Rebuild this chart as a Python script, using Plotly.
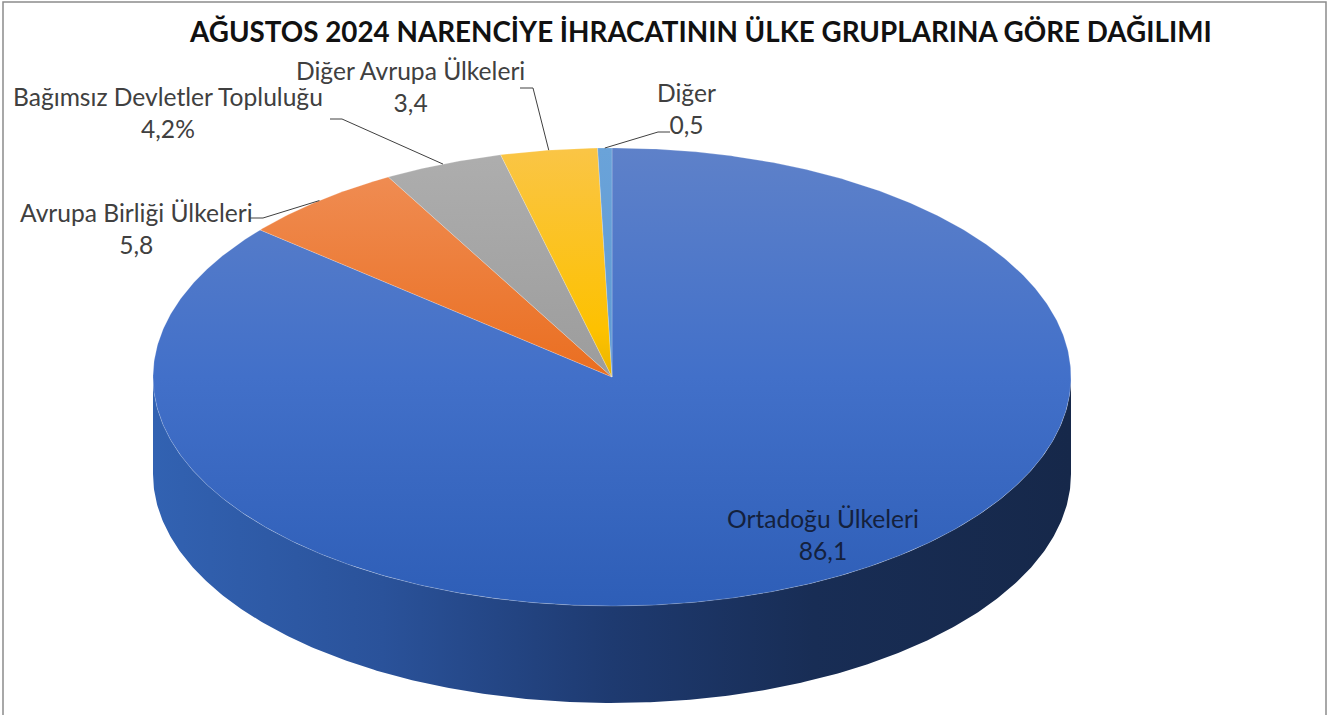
import numpy as np
import plotly.graph_objects as go

# ---------------- data ----------------
categories = ["Ortadoğu Ülkeleri", "Avrupa Birliği Ülkeleri", "Bağımsız Devletler Topluluğu",
              "Diğer Avrupa Ülkeleri", "Diğer"]
values = [86.1, 5.8, 4.2, 3.4, 0.5]
value_texts = ["86,1", "5,8", "4,2%", "3,4", "0,5"]
title_text = "AĞUSTOS 2024 NARENCİYE İHRACATININ ÜLKE GRUPLARINA GÖRE DAĞILIMI"

# ---------------- style ----------------
W, H = 1328, 715
CX, CY, RX, RY, DEPTH = 612, 377, 459, 229, 97
FONT = "Lato"

top_scales = [
    [[0, "#5E81C9"], [0.5, "#4270C9"], [1, "#2E5EB7"]],
    [[0, "#F09059"], [0.5, "#EA6E20"], [1, "#D96010"]],
    [[0, "#AEAEAE"], [0.5, "#9C9C9C"], [1, "#8A8A8A"]],
    [[0, "#FAC546"], [0.4, "#FDC100"], [0.5, "#EAB500"], [1, "#D9A800"]],
    [[0, "#6AA3D9"], [1, "#5290CF"]],
]
side_scales = [
    [[0, "#3262B2"], [0.25, "#2A529A"], [0.5, "#1E3A70"], [0.72, "#182D55"], [1, "#16284A"]],
    [[0, "#C45A12"], [1, "#7A380A"]],
    [[0, "#8A8A8A"], [1, "#555555"]],
    [[0, "#C99A00"], [1, "#7F6100"]],
    [[0, "#4A7FB8"], [1, "#2C4E72"]],
]
label_pos = [(823, 534), (136, 228), (168, 112), (410, 86), (686, 108)]
label_colors = ["#14213D", "#404040", "#404040", "#404040", "#404040"]
leader_elbows = [None,
                 [(250, 218), (263, 218)],
                 [(330, 119), (342, 119)],
                 [(520, 88), (533, 88)],
                 [(670, 132), (658, 132)]]


def ell(theta_deg, dy=0.0):
    t = np.radians(theta_deg)
    return CX + RX * np.sin(t), CY - RY * np.cos(t) + dy


total = float(sum(values))
bounds = np.concatenate([[0.0], np.cumsum(values) / total * 360.0])

fig = go.Figure()

# side walls (front half only: 90..270 degrees clockwise from 12 o'clock)
for i in range(len(values)):
    a0, a1 = bounds[i], bounds[i + 1]
    lo, hi = max(a0, 90.0), min(a1, 270.0)
    if lo >= hi:
        continue
    th = np.linspace(lo, hi, max(3, int((hi - lo) * 2)))
    xt, yt = ell(th)
    xb, yb = ell(th[::-1], DEPTH)
    xs = np.concatenate([xt, xb, xt[:1]])
    ys = np.concatenate([yt, yb, yt[:1]])
    fig.add_trace(go.Scatter(
        x=xs, y=ys, mode="lines", fill="toself", line=dict(width=0),
        fillgradient=dict(type="horizontal", colorscale=side_scales[i],
                          start=CX - RX, stop=CX + RX),
        hoverinfo="skip", showlegend=False))

# top faces
for i in range(len(values)):
    a0, a1 = bounds[i], bounds[i + 1]
    th = np.linspace(a0, a1, max(3, int((a1 - a0) * 2)))
    xa, ya = ell(th)
    xs = np.concatenate([[CX], xa, [CX]])
    ys = np.concatenate([[CY], ya, [CY]])
    fig.add_trace(go.Scatter(
        x=xs, y=ys, mode="lines", fill="toself",
        line=dict(width=0.6, color="rgba(255,255,255,0.35)"),
        fillgradient=dict(type="vertical", colorscale=top_scales[i],
                          start=CY - RY, stop=CY + RY),
        hoverinfo="skip", showlegend=False))

# leader lines (end at the mid angle of each slice on the rim)
for i in range(len(values)):
    if leader_elbows[i] is None:
        continue
    mid = (bounds[i] + bounds[i + 1]) / 2.0
    ex, ey = ell(mid)
    pts = leader_elbows[i] + [(ex, ey)]
    fig.add_trace(go.Scatter(
        x=[p[0] for p in pts], y=[p[1] for p in pts], mode="lines",
        line=dict(width=1, color="#404040"),
        hoverinfo="skip", showlegend=False))

# labels
for i in range(len(values)):
    fig.add_annotation(
        x=label_pos[i][0], y=label_pos[i][1], xref="x", yref="y",
        text=f"{categories[i]}<br>{value_texts[i]}", showarrow=False,
        xanchor="center", yanchor="middle", align="center",
        font=dict(family=FONT, size=24.6, color=label_colors[i]))

# title
fig.add_annotation(
    x=700, y=31, xref="x", yref="y", text=f"<b>{title_text}</b>", showarrow=False,
    xanchor="center", yanchor="middle",
    font=dict(family=FONT, size=27.8, color="#111111"))

# chart border
fig.add_shape(type="rect", xref="x", yref="y", x0=3, y0=2, x1=1326, y1=718,
              line=dict(color="#8C8C8C", width=1.5), fillcolor="rgba(0,0,0,0)")

fig.update_layout(
    width=W, height=H, margin=dict(l=0, r=0, t=0, b=0),
    paper_bgcolor="white", plot_bgcolor="white",
    xaxis=dict(range=[0, W], visible=False, fixedrange=True),
    yaxis=dict(range=[H, 0], visible=False, fixedrange=True),
    showlegend=False,
)

fig.write_html("out.html", config={"displayModeBar": False},
               post_script="document.body.style.margin='0';")
